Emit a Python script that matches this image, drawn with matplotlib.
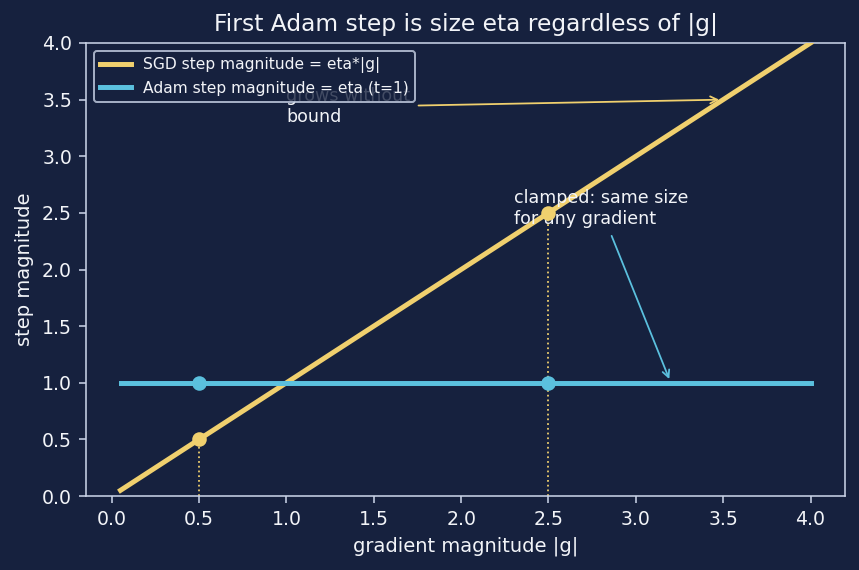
import numpy as np
import matplotlib
matplotlib.use("Agg")
import matplotlib.pyplot as plt

# data
g_line = [0.05, 4.0]
eta = 1.0
sgd_line = [g * eta for g in g_line]
adam_line = [eta, eta]
g_marks = [0.5, 2.5]
sgd_marks = [0.5, 2.5]
adam_marks = [1.0, 1.0]

BG = "#16213e"
YEL = "#f0d06e"
CYAN = "#5bc0de"
FG = "#f2f4f8"
SPINE = "#c8d2e6"

fig, ax = plt.subplots(figsize=(859 / 143, 570 / 143), dpi=143)
fig.patch.set_facecolor(BG)
ax.set_facecolor(BG)

ax.plot(g_line, sgd_line, color=YEL, lw=2.5, label="SGD step magnitude = eta*|g|", zorder=3)
ax.plot(g_line, adam_line, color=CYAN, lw=2.5, label="Adam step magnitude = eta (t=1)", zorder=3)

for g, s in zip(g_marks, sgd_marks):
    ax.plot([g, g], [0, s], color=YEL, lw=0.9, ls=":", zorder=2)
ax.scatter(g_marks, sgd_marks, color=YEL, s=40, zorder=4)
ax.scatter(g_marks, adam_marks, color=CYAN, s=40, zorder=4)

ax.annotate("grows without\nbound", xy=(3.5, 3.5), xytext=(1.0, 3.3),
            color=FG, fontsize=8.8,
            arrowprops=dict(arrowstyle="->", color=YEL, lw=0.9))
ax.annotate("clamped: same size\nfor any gradient", xy=(3.2, 1.0), xytext=(2.3, 2.4),
            color=FG, fontsize=8.8,
            arrowprops=dict(arrowstyle="->", color=CYAN, lw=0.9))

ax.set_ylim(0, 4)
ax.set_xticks([0.0, 0.5, 1.0, 1.5, 2.0, 2.5, 3.0, 3.5, 4.0])
ax.set_yticks([0.0, 0.5, 1.0, 1.5, 2.0, 2.5, 3.0, 3.5, 4.0])
ax.set_xlabel("gradient magnitude |g|", color=FG, fontsize=9.8)
ax.set_ylabel("step magnitude", color=FG, fontsize=9.8)
ax.set_title("First Adam step is size eta regardless of |g|", color=FG, fontsize=11.8)
ax.tick_params(colors=SPINE, labelcolor=FG, labelsize=9.5)
for sp in ax.spines.values():
    sp.set_color(SPINE)

leg = ax.legend(loc="upper left", fontsize=7.8, facecolor=BG, edgecolor=SPINE,
                labelcolor=FG, framealpha=0.8)

fig.subplots_adjust(left=86 / 859, right=845 / 859, top=1 - 43 / 570, bottom=1 - 496 / 570)
fig.savefig("out.png", dpi=143, facecolor=BG)
